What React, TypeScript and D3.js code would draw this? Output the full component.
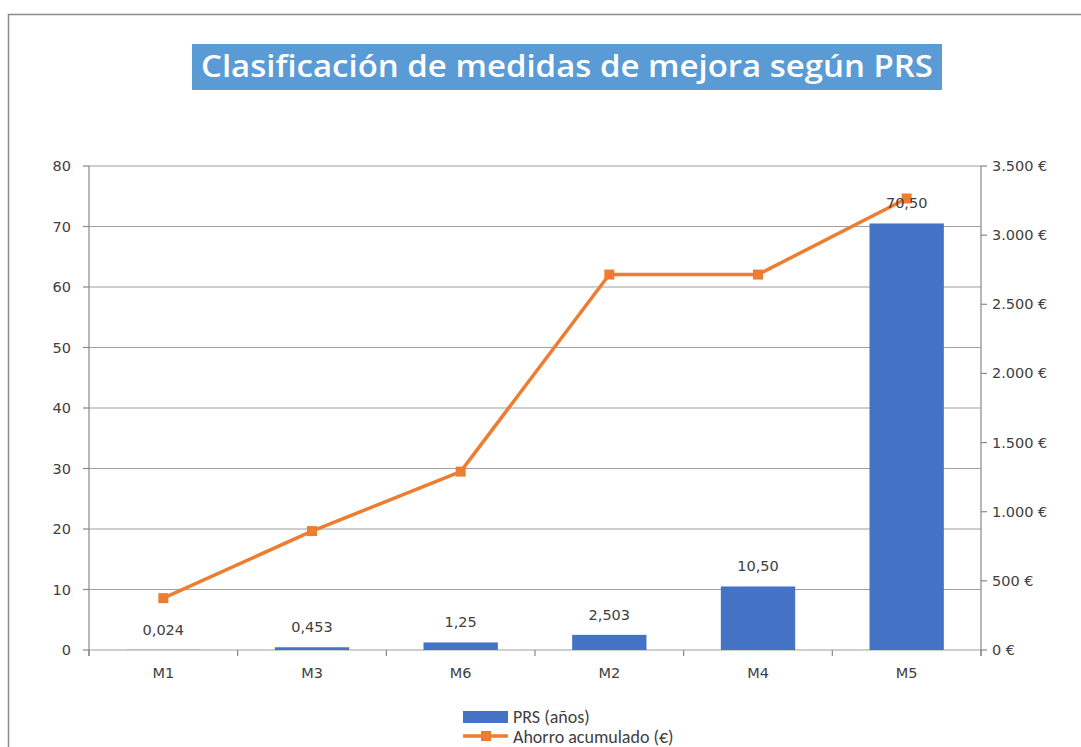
import React from "react";
import * as d3 from "d3";

const categories = ["M1", "M3", "M6", "M2", "M4", "M5"];
const prsValues = [0.024, 0.453, 1.25, 2.503, 10.5, 70.5];
const prsLabels = ["0,024", "0,453", "1,25", "2,503", "10,50", "70,50"];
const savingsValues = [375, 860, 1290, 2715, 2715, 3265];
const leftTicks = [0, 10, 20, 30, 40, 50, 60, 70, 80];
const rightTicks = [0, 500, 1000, 1500, 2000, 2500, 3000, 3500];
const rightTickLabels = ["0 €", "500 €", "1.000 €", "1.500 €", "2.000 €", "2.500 €", "3.000 €", "3.500 €"];

const W = 1081;
const H = 747;
const plot = { left: 89, right: 981, top: 166, bottom: 650 };
const axisFont = "'DejaVu Sans', Verdana, sans-serif";
const titleFont = "'Open Sans', 'Noto Sans', sans-serif";
const legendFont = "Calibri, Carlito, Lato, sans-serif";

export default function App() {
  const x = d3.scaleBand<string>().domain(categories).range([plot.left, plot.right]).paddingInner(0).paddingOuter(0);
  const yL = d3.scaleLinear().domain([0, 80]).range([plot.bottom, plot.top]);
  const yR = d3.scaleLinear().domain([0, 3500]).range([plot.bottom, plot.top]);
  const bw = x.bandwidth() * 0.5;
  const line = d3
    .line<number>()
    .x((_, i) => (x(categories[i]) as number) + x.bandwidth() / 2)
    .y((d) => yR(d));
  const tickColor = "#888";
  const textColor = "#404040";

  return (
    <svg
      width={W}
      height={H}
      style={{ position: "absolute", left: 0, top: 0, background: "#fff" }}
      fontFamily={axisFont}
    >
      <rect x={8.5} y={14.5} width={1200} height={900} fill="#fff" stroke="#8c8c8c" strokeWidth={1.5} />
      {/* title */}
      <rect x={192} y={44} width={750} height={46} fill="#5B9BD5" />
      <text
        x={567}
        y={77}
        textAnchor="middle"
        fill="#fff"
        fontSize={31}
        fontWeight={600}
        fontFamily={titleFont}
        textLength={732}
        lengthAdjust="spacingAndGlyphs"
      >
        Clasificación de medidas de mejora según PRS
      </text>

      {/* gridlines */}
      {leftTicks.map((t) => (
        <line key={"g" + t} x1={plot.left} x2={plot.right} y1={yL(t)} y2={yL(t)} stroke="#a0a0a0" strokeWidth={1.2} />
      ))}

      {/* left axis */}
      <line x1={plot.left} x2={plot.left} y1={plot.top} y2={plot.bottom + 6} stroke={tickColor} strokeWidth={1.2} />
      {leftTicks.map((t) => (
        <g key={"l" + t}>
          <line x1={plot.left - 6} x2={plot.left} y1={yL(t)} y2={yL(t)} stroke={tickColor} strokeWidth={1.2} />
          <text x={plot.left - 18} y={yL(t) + 5} textAnchor="end" fontSize={14.5} fill={textColor}>
            {t}
          </text>
        </g>
      ))}

      {/* right axis */}
      <line x1={plot.right} x2={plot.right} y1={plot.top} y2={plot.bottom + 6} stroke={tickColor} strokeWidth={1.2} />
      {rightTicks.map((t, i) => (
        <g key={"r" + t}>
          <line x1={plot.right} x2={plot.right + 6} y1={yR(t)} y2={yR(t)} stroke={tickColor} strokeWidth={1.2} />
          <text x={plot.right + 11} y={yR(t) + 5} textAnchor="start" fontSize={14.5} fill={textColor}>
            {rightTickLabels[i]}
          </text>
        </g>
      ))}

      {/* x axis ticks */}
      {categories.map((c) => (
        <line
          key={"xt" + c}
          x1={x(c) as number}
          x2={x(c) as number}
          y1={plot.bottom}
          y2={plot.bottom + 6}
          stroke={tickColor}
          strokeWidth={1.2}
        />
      ))}
      <line x1={plot.right} x2={plot.right} y1={plot.bottom} y2={plot.bottom + 6} stroke={tickColor} strokeWidth={1.2} />
      {categories.map((c) => (
        <text
          key={"xl" + c}
          x={(x(c) as number) + x.bandwidth() / 2}
          y={plot.bottom + 28}
          textAnchor="middle"
          fontSize={14.5}
          fill={textColor}
        >
          {c}
        </text>
      ))}

      {/* bars */}
      {prsValues.map((v, i) => (
        <rect
          key={"b" + i}
          x={(x(categories[i]) as number) + (x.bandwidth() - bw) / 2}
          y={yL(v)}
          width={bw}
          height={plot.bottom - yL(v)}
          fill="#4472C4"
        />
      ))}

      {/* line */}
      <path d={line(savingsValues) || ""} fill="none" stroke="#ED7D31" strokeWidth={3.5} strokeLinejoin="round" />
      {savingsValues.map((v, i) => (
        <rect
          key={"m" + i}
          x={(x(categories[i]) as number) + x.bandwidth() / 2 - 5}
          y={yR(v) - 5}
          width={10}
          height={10}
          fill="#ED7D31"
        />
      ))}

      {/* bar labels */}
      {prsValues.map((v, i) => (
        <text
          key={"bl" + i}
          x={(x(categories[i]) as number) + x.bandwidth() / 2}
          y={yL(v) - 15}
          textAnchor="middle"
          fontSize={14.5}
          fill="#404040"
        >
          {prsLabels[i]}
        </text>
      ))}

      {/* legend */}
      <rect x={463} y={711} width={45} height={12} fill="#4472C4" />
      <text x={513} y={723} fontSize={18} fill="#404040" fontFamily={legendFont}>
        PRS (años)
      </text>
      <line x1={463} x2={508} y1={736} y2={736} stroke="#ED7D31" strokeWidth={3.5} />
      <rect x={481} y={731} width={10} height={10} fill="#ED7D31" />
      <text x={513} y={743} fontSize={18} fill="#404040" fontFamily={legendFont}>
        Ahorro acumulado (€)
      </text>
    </svg>
  );
}
